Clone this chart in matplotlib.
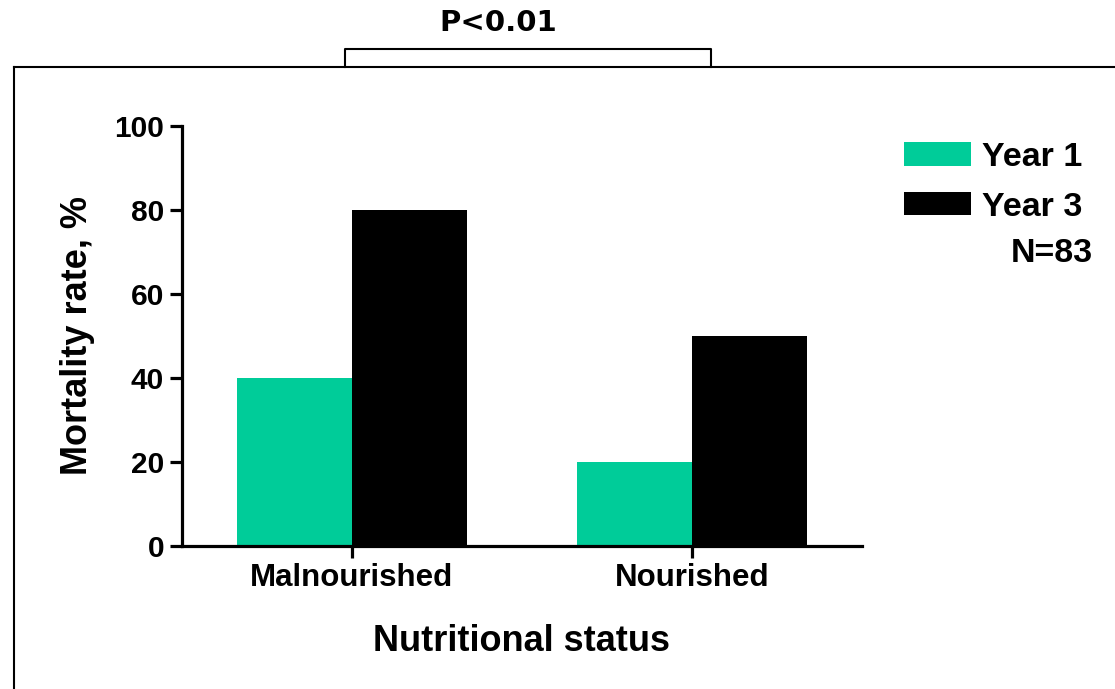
import matplotlib
matplotlib.use("Agg")
import matplotlib.pyplot as plt
from matplotlib.lines import Line2D
import numpy as np

categories = ["Malnourished", "Nourished"]
year1 = [40, 20]
year3 = [80, 50]
series_labels = ["Year 1", "Year 3"]
yticks = [0, 20, 40, 60, 80, 100]

plt.rcParams['font.family'] = ['Liberation Sans', 'DejaVu Sans']
plt.rcParams['font.weight'] = 'bold'

W, H = 1115, 689
fig = plt.figure(figsize=(W / 100, H / 100), dpi=100)
ax = fig.add_axes([181.7 / W, 1 - 545.7 / H, (861.7 - 181.7) / W, (545.7 - 126) / H])

x = np.arange(len(categories))
bw = 0.338
b1 = ax.bar(x - bw / 2, year1, bw, color="#00CC99", label=series_labels[0])
b3 = ax.bar(x + bw / 2, year3, bw, color="#000000", label=series_labels[1])

ax.set_xlim(-0.5, 1.5)
ax.set_ylim(0, 100)
ax.set_xticks(x)
ax.set_xticklabels(categories, fontsize=22.5, fontweight='bold')
ax.set_yticks(yticks)
ax.set_yticklabels([str(t) for t in yticks], fontsize=21.5, fontweight='bold')
for s in ['top', 'right']:
    ax.spines[s].set_visible(False)
for s in ['left', 'bottom']:
    ax.spines[s].set_linewidth(2.3)
ax.tick_params(axis='both', length=8.6, width=2.3, pad=4)
ax.set_ylabel("Mortality rate, %", fontsize=26, fontweight='bold', labelpad=14)
ax.set_xlabel("Nutritional status", fontsize=26, fontweight='bold', labelpad=22)

leg = ax.legend(handles=[b1, b3], labels=series_labels, loc='upper left',
                bbox_to_anchor=(904 / W, 1 - 142 / H), bbox_transform=fig.transFigure,
                frameon=False, fontsize=24.5, handlelength=1.97, handleheight=0.68,
                handletextpad=0.31, labelspacing=0.55, borderpad=0, borderaxespad=0)
for t in leg.get_texts():
    t.set_fontweight('bold')
fig.text(1093 / W, 1 - 254 / H, "N=83", ha='right', va='center', fontsize=24.5, fontweight='bold')

# outer frame
lw = 1.5
fig.add_artist(Line2D([14 / W, 1.0], [1 - 67 / H, 1 - 67 / H], transform=fig.transFigure, color='black', lw=lw))
fig.add_artist(Line2D([14 / W, 14 / W], [1 - 67 / H, 0], transform=fig.transFigure, color='black', lw=lw))
# significance bracket
fig.add_artist(Line2D([345 / W, 345 / W, 711 / W, 711 / W], [1 - 67 / H, 1 - 49 / H, 1 - 49 / H, 1 - 67 / H],
                      transform=fig.transFigure, color='black', lw=lw))
fig.text(498 / W, 1 - 23 / H, "P<0.01", ha='center', va='center', fontsize=21,
         fontweight='bold', family='DejaVu Sans')

fig.savefig("out.png", dpi=100)
